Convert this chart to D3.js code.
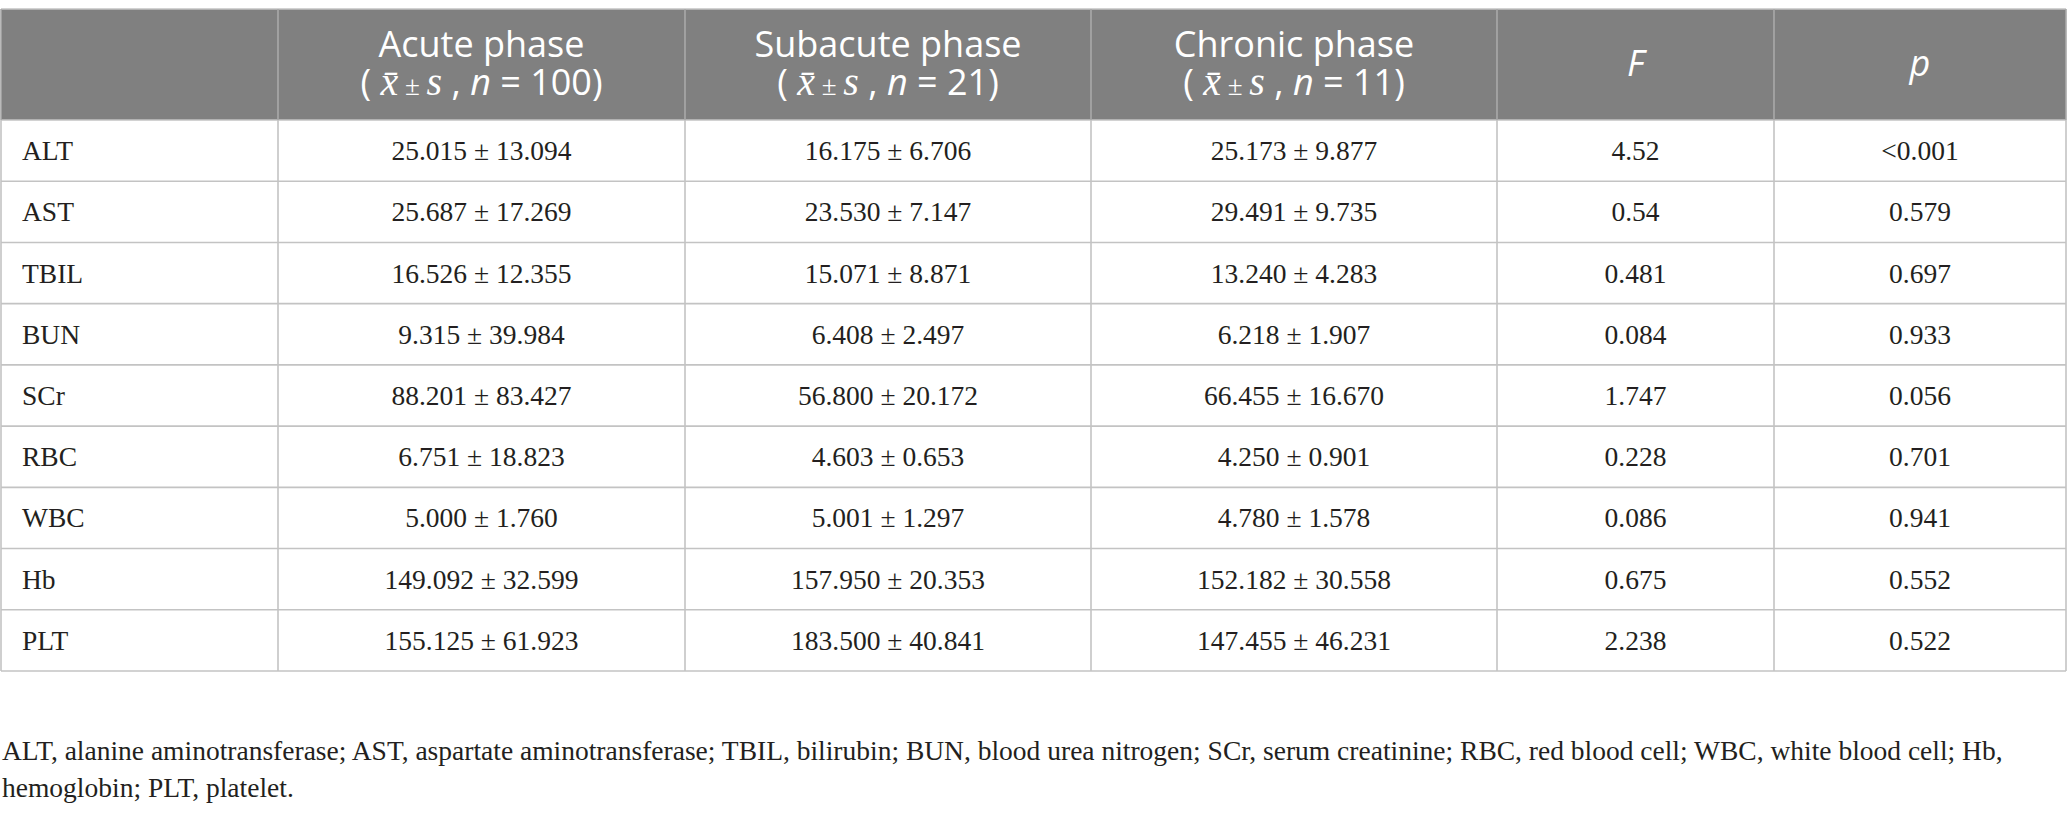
<!DOCTYPE html>
<html>
<head>
<meta charset="utf-8">
<script src="https://cdn.jsdelivr.net/npm/d3@7"></script>
<style>
    body { margin: 0; background: #ffffff; }
</style>
</head>
<body>
<div id="vis"></div>
<script>
// table contents
const ROW_LABELS = ['ALT', 'AST', 'TBIL', 'BUN', 'SCr', 'RBC', 'WBC', 'Hb', 'PLT'];
const ACUTE = ['25.015 ± 13.094', '25.687 ± 17.269', '16.526 ± 12.355', '9.315 ± 39.984',
               '88.201 ± 83.427', '6.751 ± 18.823', '5.000 ± 1.760', '149.092 ± 32.599',
               '155.125 ± 61.923'];
const SUBACUTE = ['16.175 ± 6.706', '23.530 ± 7.147', '15.071 ± 8.871', '6.408 ± 2.497',
                  '56.800 ± 20.172', '4.603 ± 0.653', '5.001 ± 1.297', '157.950 ± 20.353',
                  '183.500 ± 40.841'];
const CHRONIC = ['25.173 ± 9.877', '29.491 ± 9.735', '13.240 ± 4.283', '6.218 ± 1.907',
                 '66.455 ± 16.670', '4.250 ± 0.901', '4.780 ± 1.578', '152.182 ± 30.558',
                 '147.455 ± 46.231'];
const F_VALUES = ['4.52', '0.54', '0.481', '0.084', '1.747', '0.228', '0.086', '0.675', '2.238'];
const P_VALUES = ['<0.001', '0.579', '0.697', '0.933', '0.056', '0.701', '0.941', '0.552', '0.522'];

const COLUMNS = ['label', 'acute', 'subacute', 'chronic', 'F', 'p'];
const PHASE_TITLES = ['Acute phase', 'Subacute phase', 'Chronic phase'];
const PHASE_N = ['100', '21', '11'];
const CAPTION = ['ALT, alanine aminotransferase; AST, aspartate aminotransferase; TBIL, bilirubin; BUN, blood urea nitrogen; SCr, serum creatinine; RBC, red blood cell; WBC, white blood cell; Hb,',
                 'hemoglobin; PLT, platelet.'];

// setting up the basics
const FRAME_WIDTH = 2068;
const FRAME_HEIGHT = 815;
const TABLE = {left: 1, right: 2066, top: 9, headerBottom: 120, bottom: 671};
const COL_EDGES = [1, 278, 685, 1091, 1497, 1774, 2066];

const SERIF = '"Liberation Serif", "DejaVu Serif", serif';
const SANS = '"Open Sans", "Noto Sans", sans-serif';

const FRAME = d3.select('#vis')
                .append('svg')
                    .attr('width', FRAME_WIDTH)
                    .attr('height', FRAME_HEIGHT)
                    .style('background', '#ffffff');

// columns: left edge and centre from ordinal scales
const X_LEFT = d3.scaleOrdinal().domain(COLUMNS).range(COL_EDGES.slice(0, 6));
const X_MID = d3.scaleOrdinal().domain(COLUMNS)
                .range(COL_EDGES.slice(0, 6).map((e, i) => (e + COL_EDGES[i + 1]) / 2));

// rows share the body height equally
const Y_SCALE = d3.scaleBand()
                  .domain(ROW_LABELS)
                  .range([TABLE.headerBottom, TABLE.bottom]);

// header background
FRAME.append('rect')
    .attr('x', TABLE.left)
    .attr('y', TABLE.top)
    .attr('width', TABLE.right - TABLE.left)
    .attr('height', TABLE.headerBottom - TABLE.top)
    .attr('fill', '#808080');

// horizontal rules
const H_LINES = [TABLE.top, TABLE.headerBottom].concat(ROW_LABELS.map(d => Y_SCALE(d) + Y_SCALE.bandwidth()));
FRAME.selectAll('.hline')
    .data(H_LINES)
    .enter()
    .append('line')
    .attr('class', 'hline')
    .attr('x1', TABLE.left)
    .attr('x2', TABLE.right)
    .attr('y1', d => d)
    .attr('y2', d => d)
    .attr('stroke', '#c3c3c3')
    .attr('stroke-width', 1.6);

// vertical rules, lighter inside the header
FRAME.selectAll('.vline')
    .data(COL_EDGES)
    .enter()
    .append('line')
    .attr('class', 'vline')
    .attr('x1', d => d)
    .attr('x2', d => d)
    .attr('y1', TABLE.headerBottom)
    .attr('y2', TABLE.bottom)
    .attr('stroke', '#c3c3c3')
    .attr('stroke-width', 1.6);

FRAME.selectAll('.vline-head')
    .data(COL_EDGES)
    .enter()
    .append('line')
    .attr('class', 'vline-head')
    .attr('x1', d => d)
    .attr('x2', d => d)
    .attr('y1', TABLE.top)
    .attr('y2', TABLE.headerBottom)
    .attr('stroke', '#a9a9a9')
    .attr('stroke-width', 1.6);

// header: phase titles on two lines
const PHASE_COLS = ['acute', 'subacute', 'chronic'];
PHASE_COLS.forEach((col, i) => {
    FRAME.append('text')
        .attr('x', X_MID(col))
        .attr('y', 57)
        .attr('text-anchor', 'middle')
        .attr('fill', '#ffffff')
        .style('font-family', SANS)
        .style('font-size', '36px')
        .text(PHASE_TITLES[i]);

    const line2 = FRAME.append('text')
        .attr('x', X_MID(col))
        .attr('y', 95)
        .attr('text-anchor', 'middle')
        .attr('fill', '#ffffff')
        .style('font-family', SANS)
        .style('font-size', '36px');
    line2.append('tspan').text('( ');
    line2.append('tspan').style('font-family', SERIF).style('font-style', 'italic')
        .style('font-size', '40px').text('x\u0304');
    line2.append('tspan').style('font-family', SERIF).style('font-size', '27px').text(' ± ');
    line2.append('tspan').style('font-family', SERIF).style('font-style', 'italic')
        .style('font-size', '40px').text('s');
    line2.append('tspan').text(' , ');
    line2.append('tspan').style('font-style', 'italic').text('n');
    line2.append('tspan').text(' = ' + PHASE_N[i] + ')');
});

// header: F and p
['F', 'p'].forEach(col => {
    FRAME.append('text')
        .attr('x', X_MID(col))
        .attr('y', 76)
        .attr('text-anchor', 'middle')
        .attr('fill', '#ffffff')
        .style('font-family', SANS)
        .style('font-size', '36px')
        .style('font-style', 'italic')
        .text(col);
});

// body cells
const BODY = [
    {col: 'acute', values: ACUTE},
    {col: 'subacute', values: SUBACUTE},
    {col: 'chronic', values: CHRONIC},
    {col: 'F', values: F_VALUES},
    {col: 'p', values: P_VALUES}
];

const TEXT_DY = 9.5;

FRAME.selectAll('.row-label')
    .data(ROW_LABELS)
    .enter()
    .append('text')
    .attr('class', 'row-label')
    .attr('x', X_LEFT('label') + 21)
    .attr('y', d => Y_SCALE(d) + Y_SCALE.bandwidth() / 2 + TEXT_DY)
    .attr('fill', '#231f20')
    .style('font-family', SERIF)
    .style('font-size', '27.5px')
    .text(d => d);

BODY.forEach(b => {
    FRAME.selectAll('.cell-' + b.col)
        .data(b.values)
        .enter()
        .append('text')
        .attr('class', 'cell-' + b.col)
        .attr('x', X_MID(b.col))
        .attr('y', (d, i) => Y_SCALE(ROW_LABELS[i]) + Y_SCALE.bandwidth() / 2 + TEXT_DY)
        .attr('text-anchor', 'middle')
        .attr('fill', '#231f20')
        .style('font-family', SERIF)
        .style('font-size', '27.5px')
        .text(d => d);
});

// footnote
FRAME.selectAll('.caption')
    .data(CAPTION)
    .enter()
    .append('text')
    .attr('class', 'caption')
    .attr('x', 2)
    .attr('y', (d, i) => 760 + i * 37)
    .attr('fill', '#231f20')
    .style('font-family', SERIF)
    .style('font-size', '27.5px')
    .text(d => d);
</script>
</body>
</html>
